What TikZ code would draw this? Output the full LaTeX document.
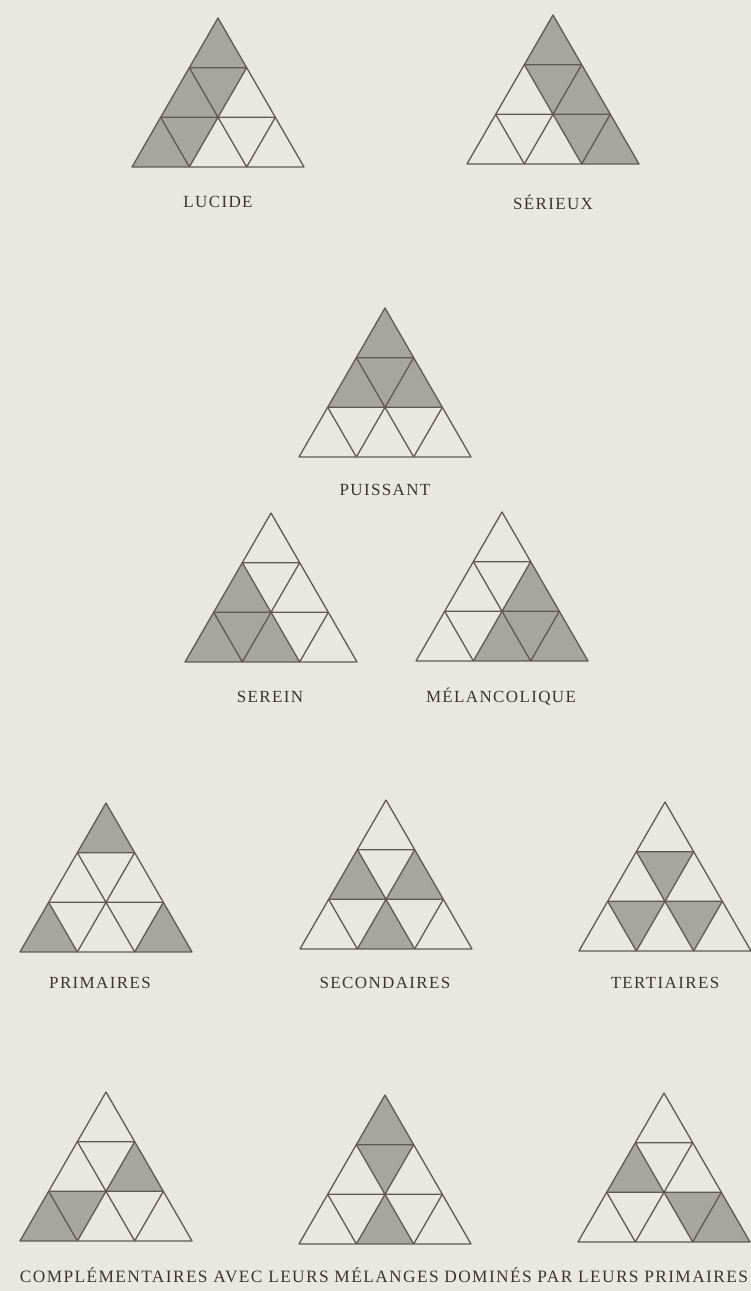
\documentclass[tikz,border=0pt]{standalone}
\usepackage{fontspec}
\setmainfont{Liberation Serif}
\newfontfamily\lblfont[LetterSpace=8]{Liberation Serif}
\definecolor{bgc}{HTML}{EAE7E2}
\definecolor{shadec}{HTML}{A8A4A0}
\definecolor{linec}{HTML}{5E5955}
\definecolor{textc}{HTML}{3A3532}
\tikzset{
  gridline/.style={draw=linec, line width=1.3pt, line join=round},
  cellfill/.style={fill=shadec},
  lbl/.style={text=textc, font=\lblfont\fontsize{17}{17}\selectfont, inner sep=0pt, anchor=center}
}
\newcommand\trifig[3]{%
  \begin{scope}[shift={(#1,#2)}]
    \foreach \j in {0,...,3}{%
      \foreach \i in {0,...,\j}{%
        \coordinate (p\i\j) at ({(\i-\j/2)*57.33},{\j*49.65});
      }%
    }
    \foreach \p/\q/\r in {#3}{\fill[cellfill] (p\p) -- (p\q) -- (p\r) -- cycle;}
    \path[gridline] (p00) -- (p03) -- (p33) -- cycle;
    \path[gridline] (p01) -- (p11) (p02) -- (p22)
      (p11) -- (p13) (p22) -- (p23)
      (p01) -- (p23) (p02) -- (p13);
  \end{scope}}
\begin{document}
\begin{tikzpicture}[x=1pt,y=-1pt]
\fill[bgc] (0,0) rectangle (751,1291);
\useasboundingbox (0,0) rectangle (751,1291);
% cells: T=00/01/11, L2=01/02/12, M2=01/11/12, R2=11/12/22,
% a=02/03/13, b=02/12/13, c=12/13/23, d=12/22/23, e=22/23/33
\trifig{218}{18}{00/01/11, 01/11/12, 01/02/12, 02/03/13, 02/12/13}
\node[lbl] (lucide) at (218,202) {LUCIDE};
\trifig{553}{15}{00/01/11, 01/11/12, 11/12/22, 12/22/23, 22/23/33}
\node[lbl] (serieux) at (553,202) {SÉRIEUX};
\trifig{385}{308}{00/01/11, 01/02/12, 01/11/12, 11/12/22}
\node[lbl] (puissant) at (385,490) {PUISSANT};
\trifig{271}{513}{01/02/12, 02/03/13, 02/12/13, 12/13/23}
\node[lbl] (serein) at (270,697) {SEREIN};
\trifig{502}{512}{11/12/22, 12/13/23, 12/22/23, 22/23/33}
\node[lbl] (melanco) at (501,697) {MÉLANCOLIQUE};
\trifig{106}{803}{00/01/11, 02/03/13, 22/23/33}
\node[lbl] (primaires) at (100,983) {PRIMAIRES};
\trifig{386}{800}{01/02/12, 11/12/22, 12/13/23}
\node[lbl] (secondaires) at (385,983) {SECONDAIRES};
\trifig{665}{802}{01/11/12, 02/12/13, 12/22/23}
\node[lbl] (tertiaires) at (665,983) {TERTIAIRES};
\trifig{106}{1092}{11/12/22, 02/03/13, 02/12/13}
\trifig{385}{1095}{00/01/11, 01/11/12, 12/13/23}
\trifig{664}{1093}{01/02/12, 12/22/23, 22/23/33}
\node[lbl] (complem) at (384,1275) {\resizebox{728pt}{!}{\fontsize{14}{14}\selectfont COMPLÉMENTAIRES AVEC LEURS MÉLANGES DOMINÉS PAR LEURS PRIMAIRES}};
\end{tikzpicture}
\end{document}
